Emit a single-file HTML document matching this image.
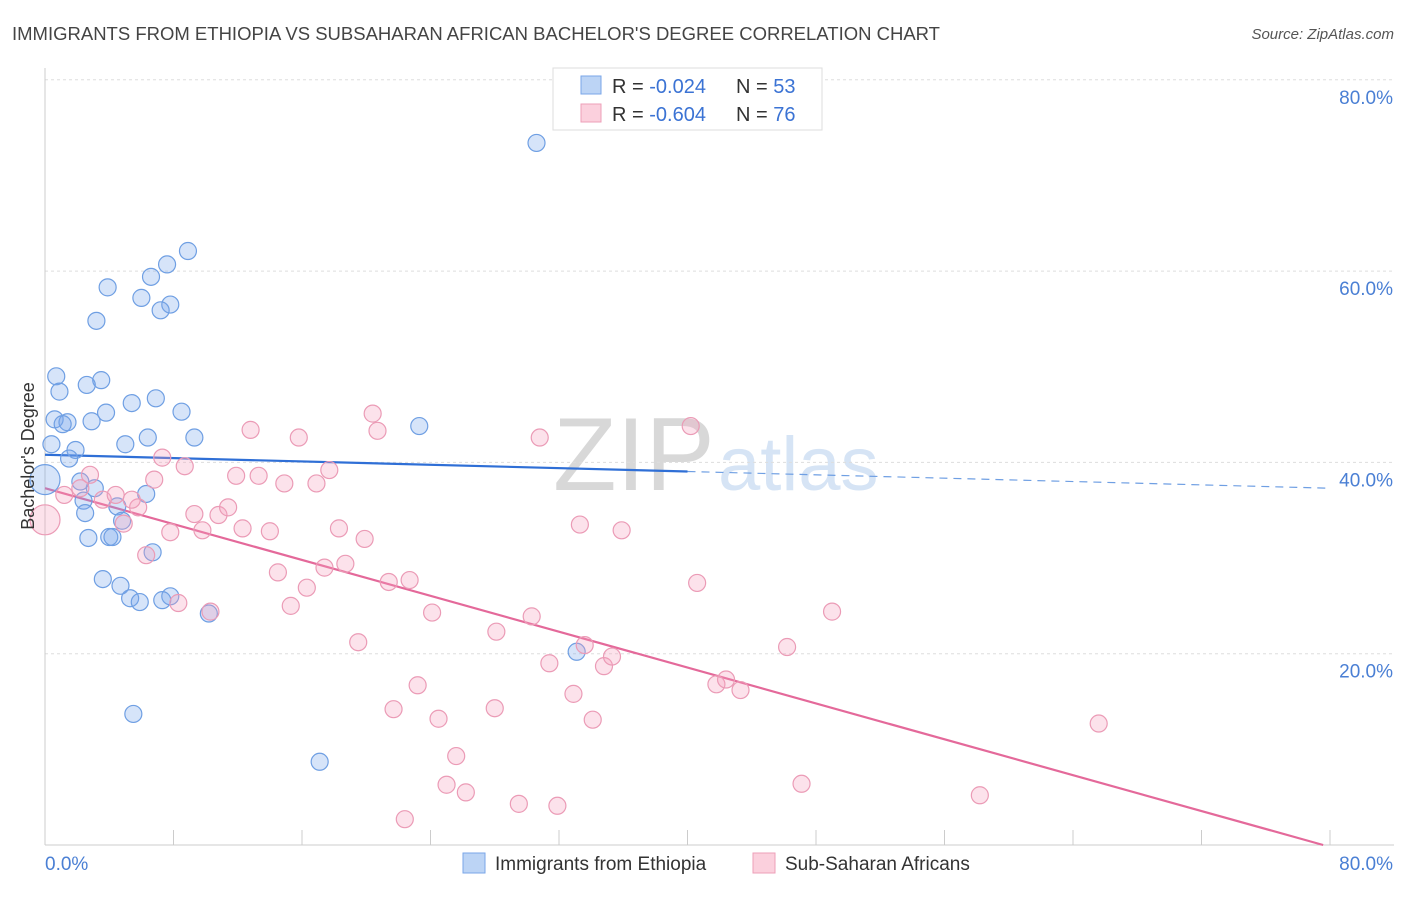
<!DOCTYPE html>
<html><head><meta charset="utf-8"><style>
body{margin:0;background:#fff;font-family:"Liberation Sans",sans-serif;}
svg text{font-family:"Liberation Sans",sans-serif;}
</style></head><body>
<svg id="chart" width="1406" height="892">
<text x="12" y="40" font-size="18" fill="#444" textLength="928" lengthAdjust="spacingAndGlyphs">IMMIGRANTS FROM ETHIOPIA VS SUBSAHARAN AFRICAN BACHELOR'S DEGREE CORRELATION CHART</text>
<text x="1394" y="39" font-size="15" fill="#555" text-anchor="end" font-style="italic">Source: ZipAtlas.com</text>
<text x="553" y="490" font-size="104" fill="#d8d8d8" font-family="Liberation Serif">ZIP</text>
<text x="718" y="490" font-size="76" fill="#d6e4f5">atlas</text>
<g id="grid"></g><g id="axes"></g><g id="trends"></g><g id="pts"></g>
<text x="34" y="456" font-size="18" fill="#333" text-anchor="middle" transform="rotate(-90 34 456)">Bachelor's Degree</text>
<g>
<rect x="553" y="68" width="269" height="62" fill="#fff" stroke="#ddd"/>
<rect x="581" y="76" width="20" height="18" fill="#bcd4f5" stroke="#7aa6e8"/>
<rect x="581" y="104" width="20" height="18" fill="#fbd0dd" stroke="#ee9fb8"/>
<text x="612" y="93" font-size="20" fill="#333">R = <tspan fill="#3b73d4">-0.024</tspan></text>
<text x="736" y="93" font-size="20" fill="#333">N = <tspan fill="#3b73d4">53</tspan></text>
<text x="612" y="121" font-size="20" fill="#333">R = <tspan fill="#3b73d4">-0.604</tspan></text>
<text x="736" y="121" font-size="20" fill="#333">N = <tspan fill="#3b73d4">76</tspan></text>
</g>
<g>
<rect x="463" y="853" width="22" height="20" fill="#bcd4f5" stroke="#7aa6e8"/>
<text x="495" y="870" font-size="19" fill="#333">Immigrants from Ethiopia</text>
<rect x="753" y="853" width="22" height="20" fill="#fbd0dd" stroke="#ee9fb8"/>
<text x="785" y="870" font-size="19" fill="#333">Sub-Saharan Africans</text>
</g>
</svg>
<script>
const blueX=[30.6,8.9,7.6,6.6,3.9,6.0,7.8,7.2,3.2,0.7,3.5,2.6,0.9,6.9,5.4,8.5,3.8,0.6,1.4,1.1,2.9,23.3,6.4,9.3,5.0,0.4,1.9,1.5,2.2,3.1,6.3,2.4,4.5,2.5,4.8,2.7,4.0,4.2,6.7,3.6,4.7,7.8,5.3,5.9,7.3,10.2,33.1,5.5,17.1,0.0];
const blueY=[73.4,62.1,60.7,59.4,58.3,57.2,56.5,55.9,54.8,49.0,48.6,48.1,47.4,46.7,46.2,45.3,45.2,44.5,44.2,44.0,44.3,43.8,42.6,42.6,41.9,41.9,41.3,40.4,38.0,37.3,36.7,36.0,35.4,34.7,33.9,32.1,32.2,32.2,30.6,27.8,27.1,26.0,25.8,25.4,25.6,24.2,20.2,13.7,8.7,38.2];
const pinkX=[0,1.2,2.8,2.2,3.6,4.4,4.9,5.8,5.4,6.8,7.3,8.7,7.8,6.3,8.3,9.3,9.8,10.8,11.4,10.3,11.9,12.8,12.3,13.3,14.0,14.9,15.8,14.5,15.3,16.3,16.9,17.4,17.7,18.3,18.7,19.9,20.4,20.7,19.5,21.4,22.7,21.7,23.2,24.1,24.5,22.4,25.0,25.6,26.2,28.1,28.0,29.5,30.3,30.8,31.9,31.4,32.9,33.6,33.3,34.1,34.8,35.3,35.9,40.2,40.6,41.8,42.4,43.3,46.2,47.1,49.0,58.2,65.6];
const pinkY=[34.0,36.6,38.7,37.3,36.1,36.6,33.6,35.3,36.1,38.2,40.5,39.6,32.7,30.3,25.3,34.6,32.9,34.5,35.3,24.4,38.6,43.4,33.1,38.6,32.8,37.8,42.6,28.5,25.0,26.9,37.8,29.0,39.2,33.1,29.4,32.0,45.1,43.3,21.2,27.5,27.7,14.2,16.7,24.3,13.2,2.7,6.3,9.3,5.5,22.3,14.3,4.3,23.9,42.6,4.1,19.0,15.8,20.9,33.5,13.1,18.7,19.7,32.9,43.8,27.4,16.8,17.3,16.2,20.7,6.4,24.4,5.2,12.7];
const blueTrend=[40.8,37.3];
const pinkTrend=[37.3,-0.2];
const yTicks=[20,40,60,80];
const yTickLabels=["20.0%","40.0%","60.0%","80.0%"];
const xLabels=["0.0%","80.0%"];
const NS="http://www.w3.org/2000/svg";
const X=v=>45+v/80*1285, Y=v=>845-v/20*191.3;
function mk(t,a,p){const e=document.createElementNS(NS,t);for(const k in a)e.setAttribute(k,a[k]);p.appendChild(e);return e;}
const grid=document.getElementById('grid'),axes=document.getElementById('axes'),tr=document.getElementById('trends'),pts=document.getElementById('pts');
yTicks.forEach((t,i)=>{
 const l=mk('line',{x1:45,x2:1394,y1:Y(t),y2:Y(t),stroke:'#ddd','stroke-dasharray':'3,3'},grid);
 
 
 const tx=mk('text',{x:1393,y:Y(t)+24,'font-size':19,fill:'#4a7fd4','text-anchor':'end'},axes);tx.textContent=yTickLabels[i];
 
 
});
const ya=mk('line',{x1:45,x2:45,y1:68,y2:845,stroke:'#ccc'},axes);


const xa=mk('line',{x1:45,x2:1394,y1:845,y2:845,stroke:'#ccc'},axes);


for(let i=0;i<=10;i++){const t=mk('line',{x1:X(i*8),x2:X(i*8),y1:830,y2:845,stroke:'#ccc'},axes);
 
 }
[[0,'start',45],[80,'end',1393]].forEach((d,i)=>{const t=mk('text',{x:d[2],y:870,'font-size':19,fill:'#4a7fd4','text-anchor':d[1]},axes);t.textContent=xLabels[i];
 
 });
function P(xx,yy,fill,stroke,name,bigIdx){xx.forEach((x,i)=>{const big=i===bigIdx;
 const c=mk('circle',{cx:X(x),cy:Y(yy[i]),r:big?15:8.5,fill:fill,stroke:stroke,'stroke-width':1.2},pts);
 
 });}
P(blueX,blueY,'rgba(120,165,235,0.3)','#6f9fe3','blue',blueX.length-1);
P(pinkX,pinkY,'rgba(245,160,190,0.3)','#eb9bb6','pink',0);
const bt=v=>blueTrend[0]+(blueTrend[1]-blueTrend[0])*v/80;
const b1=mk('line',{x1:X(0),y1:Y(bt(0)),x2:X(40),y2:Y(bt(40)),stroke:'#2f6fd6','stroke-width':2.2},tr);


const b2=mk('line',{x1:X(40),y1:Y(bt(40)),x2:X(80),y2:Y(bt(80)),stroke:'#6f9fe3','stroke-width':1.2,'stroke-dasharray':'8,6'},tr);


const pt=v=>pinkTrend[0]+(pinkTrend[1]-pinkTrend[0])*v/80;
const xe=80*(pinkTrend[0])/(pinkTrend[0]-pinkTrend[1]);
const p1=mk('line',{x1:X(0),y1:Y(pt(0)),x2:X(xe),y2:Y(pt(xe)),stroke:'#e4699a','stroke-width':2.2},tr);


</script>
</body></html>
